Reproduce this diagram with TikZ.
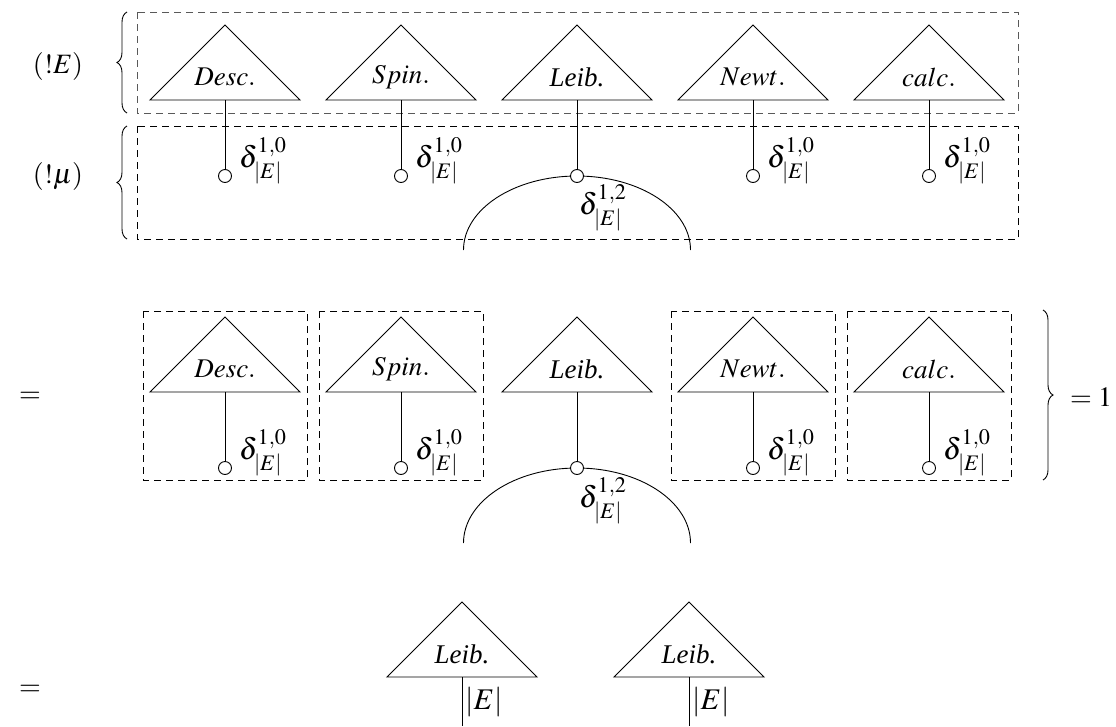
\documentclass[tikz,border=0pt]{standalone}
\usepackage{mathptmx}
\usepackage{fontspec}
\setmainfont{Liberation Serif}
\usetikzlibrary{calc,decorations.pathreplacing}

\newcommand\mytri[4]{% name, x, apex y, label
  \coordinate (#1-apex) at (#2,#3);
  \draw[triline] ($(#1-apex)+(-75,75)$) -- (#1-apex) -- ($(#1-apex)+(75,75)$) -- cycle;
  \node[trilbl] (#1) at ($(#1-apex)+(0,52)$) {#4};
  \coordinate (#1-base) at ($(#1-apex)+(0,75)$);
}
\newcommand\mystem[4]{% name, circle offset, label name, label
  \node[endcirc] (#1-c) at ($(#1-base)+(0,#2)$) {};
  \draw[stemline] (#1-base) -- (#1-c);
  \node[dlbl, anchor=west] (#3) at ($(#1-c)+(14,-15)$) {#4};
}

\begin{document}
\begin{tikzpicture}[x=1pt,y=-1pt,
  triline/.style={draw, line width=0.9pt, line join=miter},
  trilbl/.style={inner sep=0pt, font=\fontsize{27}{32}\selectfont},
  stemline/.style={line width=0.9pt},
  endcirc/.style={circle, draw, fill=white, line width=0.9pt, minimum size=13pt, inner sep=0pt},
  dlbl/.style={inner sep=0pt, font=\fontsize{30}{34}\selectfont},
  sidelbl/.style={inner sep=0pt, font=\fontsize{28}{32}\selectfont},
  dbox/.style={draw, line width=0.9pt, dash pattern=on 7pt off 5pt},
  graybox/.style={dbox, draw=black!65},
  brc/.style={decorate, decoration={brace, mirror, amplitude=10pt}, line width=0.9pt}
]
\useasboundingbox (0,0) rectangle (1116,726);

% ---------- top block ----------
\node[sidelbl] (lE) at (58,66) {$(!E)$};
\node[sidelbl] (lmu) at (58,176) {$(!\mu)$};
\draw[graybox] (137,12) rectangle (1018,113);
\draw[dbox] (137,126) rectangle (1018,239);
\coordinate (b1a) at (127,12); \coordinate (b1b) at (127,113);
\coordinate (b2a) at (127,126); \coordinate (b2b) at (127,239);
\draw[brc] (b1a) -- (b1b);
\draw[brc] (b2a) -- (b2b);

\coordinate (arcA) at (463.5,250);
\draw[stemline] (arcA) arc[start angle=180, end angle=360, x radius=113.5, y radius=74];

\mytri{tD}{225}{25}{$Desc.$}
\mytri{tS}{401}{25}{$Spin.$}
\mytri{tL}{577}{25}{\textit{Leib.}}
\mytri{tN}{753}{25}{$Newt.$}
\mytri{tC}{929}{25}{$calc.$}
\mystem{tD}{76}{dtD}{$\delta^{1,0}_{|E|}$}
\mystem{tS}{76}{dtS}{$\delta^{1,0}_{|E|}$}
\mystem{tN}{76}{dtN}{$\delta^{1,0}_{|E|}$}
\mystem{tC}{76}{dtC}{$\delta^{1,0}_{|E|}$}
\node[endcirc] (tL-c) at ($(tL-base)+(0,76)$) {};
\draw[stemline] (tL-base) -- (tL-c);
\node[dlbl, anchor=west] (dtL) at (579,208) {$\delta^{1,2}_{|E|}$};

% ---------- middle block ----------
\node[sidelbl] (eq1) at (30,397) {$=$};
\draw[dbox] (143,311) rectangle (307,480);
\draw[dbox] (319,311) rectangle (483,480);
\draw[dbox] (671,311) rectangle (835,480);
\draw[dbox] (847,311) rectangle (1011,480);
\coordinate (b3a) at (1043,480); \coordinate (b3b) at (1043,310);
\draw[brc] (b3a) -- (b3b);
\node[sidelbl, anchor=west] (one) at (1070,397) {$=1$};

\coordinate (arcB) at (463.5,543);
\draw[stemline] (arcB) arc[start angle=180, end angle=360, x radius=113.5, y radius=75];

\mytri{mD}{225}{317}{$Desc.$}
\mytri{mS}{401}{317}{$Spin.$}
\mytri{mL}{577}{317}{\textit{Leib.}}
\mytri{mN}{753}{317}{$Newt.$}
\mytri{mC}{929}{317}{$calc.$}
\mystem{mD}{76}{dmD}{$\delta^{1,0}_{|E|}$}
\mystem{mS}{76}{dmS}{$\delta^{1,0}_{|E|}$}
\mystem{mN}{76}{dmN}{$\delta^{1,0}_{|E|}$}
\mystem{mC}{76}{dmC}{$\delta^{1,0}_{|E|}$}
\node[endcirc] (mL-c) at ($(mL-base)+(0,76)$) {};
\draw[stemline] (mL-base) -- (mL-c);
\node[dlbl, anchor=west] (dmL) at (579,501) {$\delta^{1,2}_{|E|}$};

% ---------- bottom block ----------
\node[sidelbl] (eq2) at (30,690) {$=$};
\mytri{bA}{462}{602}{\textit{Leib.}}
\mytri{bB}{689}{602}{\textit{Leib.}}
\coordinate (bA-end) at (462,726);
\coordinate (bB-end) at (689,726);
\draw[stemline] (bA-base) -- (bA-end);
\draw[stemline] (bB-base) -- (bB-end);
\node[dlbl, anchor=west] (eA) at (465,702) {$|E|$};
\node[dlbl, anchor=west] (eB) at (692,702) {$|E|$};
\end{tikzpicture}
\end{document}
